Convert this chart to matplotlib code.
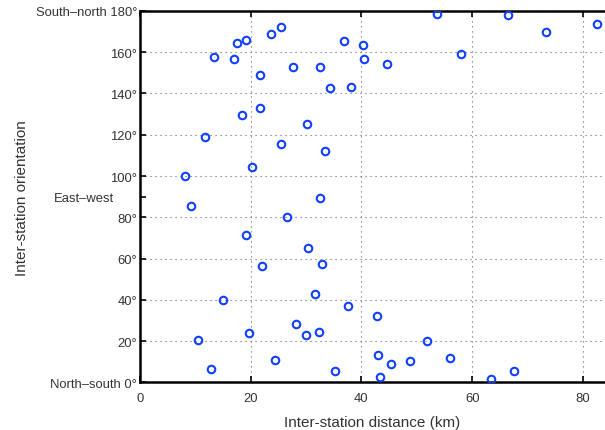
import matplotlib
matplotlib.use("Agg")
import matplotlib.pyplot as plt
from matplotlib.ticker import FixedLocator

plt.rcParams['font.family'] = ['Liberation Sans', 'DejaVu Sans']

distance_km = [13.4, 16.9, 17.6, 19.2, 23.6, 25.5, 27.7, 21.7, 21.7, 18.5, 30.1, 11.8,
               25.4, 20.2, 8.2, 9.3, 26.6,
               53.6, 66.5, 82.5, 73.4, 36.8, 40.3, 58.0, 40.5, 32.6, 44.6, 34.4, 38.1,
               33.4, 32.6,
               19.2, 22.0, 30.3, 15.0, 10.4, 19.7, 28.1, 30.0, 12.9, 24.3,
               32.9, 31.6, 37.6, 42.9, 32.3, 51.8, 43.0, 45.3, 48.7, 56.0, 35.2, 43.3,
               63.4, 67.5]
orientation_deg = [157.8, 156.7, 164.5, 165.8, 168.7, 172.2, 152.7, 148.8, 132.8, 129.4, 125.4, 119.1,
                   115.7, 104.5, 100.0, 85.6, 80.0,
                   178.5, 177.9, 173.7, 170.0, 165.3, 163.6, 159.3, 156.7, 152.8, 154.3, 142.5, 143.0,
                   112.0, 89.2,
                   71.4, 56.2, 64.9, 40.0, 20.5, 23.9, 28.4, 22.8, 6.6, 10.7,
                   57.5, 42.7, 37.0, 32.3, 24.5, 20.2, 13.4, 8.7, 10.2, 11.9, 5.3, 2.7,
                   1.7, 5.5]

x_ticks = [0, 20, 40, 60, 80]
y_ticks = [0, 20, 40, 60, 80, 100, 120, 140, 160, 180]
y_tick_labels = ['North\u2013south 0\u00b0', '20\u00b0', '40\u00b0', '60\u00b0', '80\u00b0',
                 '100\u00b0', '120\u00b0', '140\u00b0', '160\u00b0', 'South\u2013north 180\u00b0']
minor_y_ticks = [90]
minor_y_labels = ['East\u2013west']

fig = plt.figure(figsize=(6.05, 4.31), dpi=100)
ax = fig.add_axes([0.2314, 0.1107, 0.7686, 0.8615])

ax.plot(distance_km, orientation_deg, linestyle='none', marker='o', markersize=5.4,
        markerfacecolor='none', markeredgecolor='#1040ff', markeredgewidth=1.5, zorder=3)

ax.set_xlim(0, 84)
ax.set_ylim(0, 180)
ax.set_xticks(x_ticks)
ax.set_yticks(y_ticks)
ax.set_yticklabels(y_tick_labels)
ax.yaxis.set_minor_locator(FixedLocator(minor_y_ticks))
ax.set_yticklabels(minor_y_labels, minor=True)

ax.grid(True, which='major', linestyle=(0, (1, 3.5)), color='#666666', linewidth=0.8)
ax.tick_params(which='both', direction='in', length=4, width=1.2, colors='black',
               labelcolor='#333333', labelsize=9.4, top=True, right=False)
ax.tick_params(axis='y', which='major', pad=2)
ax.tick_params(axis='y', which='minor', length=4, width=1.2, pad=19)
ax.tick_params(axis='x', pad=7)

for side in ['left', 'top', 'bottom']:
    ax.spines[side].set_linewidth(1.8)
    ax.spines[side].set_color('black')
ax.spines['right'].set_visible(False)

ax.set_xlabel('Inter-station distance (km)', fontsize=11, color='#333333', labelpad=8)
ax.set_ylabel('Inter-station orientation', fontsize=11, color='#333333')
ax.yaxis.set_label_coords(-0.239, 0.5)

fig.savefig('out.png', dpi=100)
